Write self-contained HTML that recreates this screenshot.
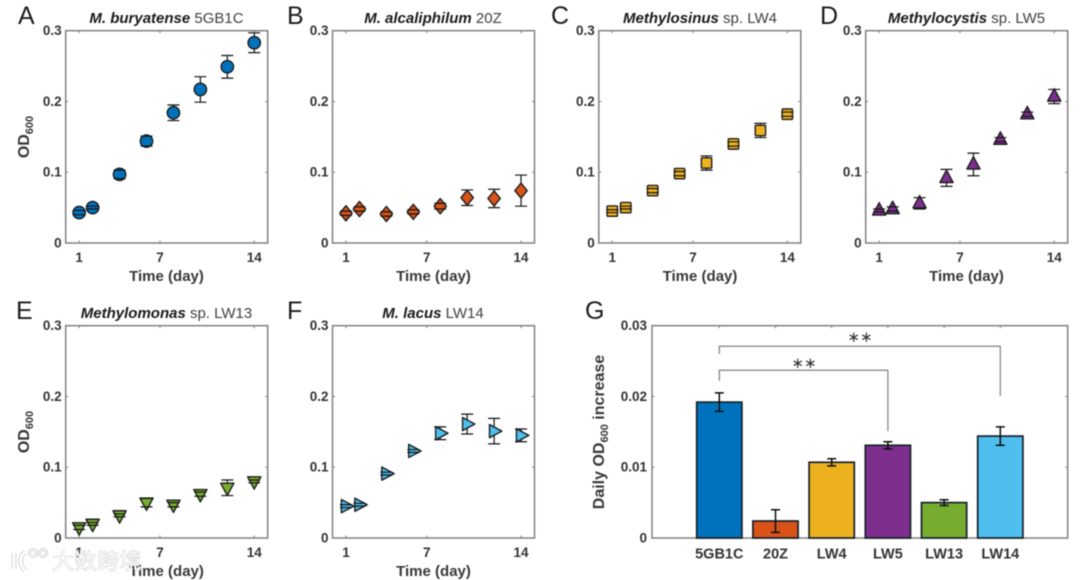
<!DOCTYPE html>
<html>
<head>
<meta charset="utf-8">
<title>Growth curves of methanotrophs</title>
<style>
html,body{margin:0;padding:0;background:#fff;}
body{width:1080px;height:580px;overflow:hidden;}
svg{display:block;filter:blur(0.6px);font-family:"Liberation Sans","Noto Sans CJK SC",sans-serif;}
.tick{font-size:13.5px;font-weight:bold;fill:#333;}
.lab{font-size:15px;font-weight:bold;fill:#383838;}
.oy{font-size:16px;}
.sub{font-size:11px;font-weight:bold;}
.ttl{font-size:15px;fill:#404040;}
.ttl .it{font-weight:bold;font-style:italic;fill:#1a1a1a;}
.let{font-size:25px;fill:#1c1c1c;}
</style>
</head>
<body>
<svg id="fig" xmlns="http://www.w3.org/2000/svg" width="1080" height="580" viewBox="0 0 1080 580">
  <rect width="1080" height="580" fill="#fff"/>

  <text class="let" x="18" y="24">A</text>
  <text class="let" x="287" y="24">B</text>
  <text class="let" x="551" y="24">C</text>
  <text class="let" x="820" y="24">D</text>
  <text class="let" x="16" y="319">E</text>
  <text class="let" x="287" y="319">F</text>
  <text class="let" x="585" y="319">G</text>

  <text class="ttl" x="166.5" y="23" text-anchor="middle"><tspan class="it">M. buryatense</tspan> 5GB1C</text>
  <text class="ttl" x="433" y="23" text-anchor="middle"><tspan class="it">M. alcaliphilum</tspan> 20Z</text>
  <text class="ttl" x="700" y="23" text-anchor="middle"><tspan class="it">Methylosinus</tspan> sp. LW4</text>
  <text class="ttl" x="966.5" y="23" text-anchor="middle"><tspan class="it">Methylocystis</tspan> sp. LW5</text>
  <text class="ttl" x="166.5" y="318" text-anchor="middle"><tspan class="it">Methylomonas</tspan> sp. LW13</text>
  <text class="ttl" x="433" y="318" text-anchor="middle"><tspan class="it">M. lacus</tspan> LW14</text>

  <text class="lab" x="166.5" y="281" text-anchor="middle">Time (day)</text>
  <text class="lab" x="433.5" y="281" text-anchor="middle">Time (day)</text>
  <text class="lab" x="700" y="281" text-anchor="middle">Time (day)</text>
  <text class="lab" x="966.5" y="281" text-anchor="middle">Time (day)</text>
  <text class="lab" x="166.5" y="576" text-anchor="middle">Time (day)</text>
  <text class="lab" x="433.5" y="576" text-anchor="middle">Time (day)</text>

  <text class="lab oy" transform="translate(29,137) rotate(-90)" text-anchor="middle">OD<tspan class="sub" dy="4">600</tspan></text>
  <text class="lab oy" transform="translate(29,432) rotate(-90)" text-anchor="middle">OD<tspan class="sub" dy="4">600</tspan></text>
  <text class="lab oy" transform="translate(604,432) rotate(-90)" text-anchor="middle">Daily OD<tspan class="sub" dy="4">600</tspan><tspan dy="-4"> increase</tspan></text>

  <g id="charts"></g>

  <text x="804" y="368" text-anchor="middle" font-family="'DejaVu Sans',sans-serif" font-size="15" fill="#333">∗∗</text>
  <text x="860" y="342" text-anchor="middle" font-family="'DejaVu Sans',sans-serif" font-size="15" fill="#333">∗∗</text>

  <g>
    <g fill="none">
      <path d="M14 553 v16 M25 552 q-9 8 0 19" stroke="#c4c4c4" stroke-width="4.4"/>
      <path d="M14 553 v16 M25 552 q-9 8 0 19" stroke="#fff" stroke-width="3"/>
      <circle cx="33" cy="553" r="3.6" stroke="#bbb" stroke-width="2.6"/>
      <circle cx="43" cy="553" r="3.6" stroke="#bbb" stroke-width="2.6"/>
      <circle cx="33" cy="553" r="3.6" stroke="#fff" stroke-width="1.4"/>
      <circle cx="43" cy="553" r="3.6" stroke="#fff" stroke-width="1.4"/>
    </g>
    <text x="52" y="569" font-size="22" font-family="'Noto Sans CJK SC',sans-serif" fill="#fff" stroke="#b4b4b4" stroke-width="0.7" paint-order="stroke" letter-spacing="0.5">大数跨境</text>
  </g>
</svg>

<script>
// ---- shared axis values ----
const days = [1, 2, 4, 6, 8, 10, 12, 14];
const xTickLabels = [1, 7, 14];
const yTickLabels = ['0', '0.1', '0.2', '0.3'];
const yTickValues = [0, 0.1, 0.2, 0.3];

// ---- OD600 series (mean) ----
const seriesA = [0.043, 0.050, 0.097, 0.144, 0.184, 0.217, 0.249, 0.283];
const seriesB = [0.042, 0.048, 0.041, 0.044, 0.052, 0.064, 0.063, 0.074];
const seriesC = [0.045, 0.050, 0.074, 0.098, 0.113, 0.140, 0.159, 0.182];
const seriesD = [0.046, 0.048, 0.056, 0.092, 0.111, 0.146, 0.182, 0.207];
const seriesE = [0.015, 0.020, 0.032, 0.050, 0.047, 0.062, 0.071, 0.080];
const seriesF = [0.045, 0.047, 0.091, 0.123, 0.148, 0.161, 0.151, 0.145];

// ---- OD600 series (error) ----
const errorA = [0.003, 0.002, 0.006, 0.007, 0.011, 0.018, 0.016, 0.014];
const errorB = [0.003, 0.003, 0.003, 0.003, 0.004, 0.011, 0.013, 0.022];
const errorC = [0.002, 0.002, 0.003, 0.003, 0.010, 0.003, 0.010, 0.003];
const errorD = [0.002, 0.003, 0.008, 0.012, 0.016, 0.003, 0.003, 0.010];
const errorE = [0.003, 0.002, 0.002, 0.006, 0.003, 0.003, 0.011, 0.002];
const errorF = [0.002, 0.002, 0.002, 0.002, 0.009, 0.014, 0.018, 0.009];

// ---- panel G ----
const barCategories = ['5GB1C', '20Z', 'LW4', 'LW5', 'LW13', 'LW14'];
const barValues = [0.0192, 0.0024, 0.0107, 0.0131, 0.0050, 0.0144];
const barErrors = [0.0013, 0.0016, 0.0005, 0.0005, 0.0004, 0.0013];
const barTickLabels = ['0', '0.01', '0.02', '0.03'];
const barTickValues = [0, 0.01, 0.02, 0.03];
const barColors = ['#0072bd', '#d95319', '#edb120', '#7e2f8e', '#77ac30', '#4dbeee'];

const NS = 'http://www.w3.org/2000/svg';
const root = document.getElementById('charts');
const AXIS = '#808080';
const INK = '#141414';

function make(parent, tag, attrs) {
  const el = document.createElementNS(NS, tag);
  for (const k in attrs) el.setAttribute(k, attrs[k]);
  parent.appendChild(el);
  return el;
}

function drawFrame(g, f, xTicksPx, yTicksPx) {
  const box = make(g, 'rect', {x: f.l, y: f.t, width: f.r - f.l, height: f.b - f.t, fill: 'none', stroke: AXIS, 'stroke-width': 1.5});
  
  
  xTicksPx.forEach(function (x) {
    const d = 'M' + x + ' ' + f.b + 'v-2.5M' + x + ' ' + f.t + 'v2.5';
    const t = make(g, 'path', {d: d, stroke: AXIS, 'stroke-width': 1, fill: 'none'});
    
    
  });
  yTicksPx.forEach(function (y) {
    const d = 'M' + f.l + ' ' + y + 'h2.5M' + f.r + ' ' + y + 'h-2.5';
    const t = make(g, 'path', {d: d, stroke: AXIS, 'stroke-width': 1, fill: 'none'});
    
    
  });
}

function drawMarker(g, kind, cx, cy, color) {
  const common = {fill: color, stroke: '#1d1d1d', 'stroke-width': 1.4, 'stroke-linejoin': 'round'};
  let el;
  if (kind === 'circle') {
    el = make(g, 'circle', Object.assign({cx: cx, cy: cy, r: 6.2}, common));
  } else if (kind === 'square') {
    el = make(g, 'rect', Object.assign({x: cx - 5.2, y: cy - 5.2, width: 10.4, height: 10.4, rx: 1}, common));
  } else {
    const shapes = {
      diamond: [[0, -7.6], [6.2, 0], [0, 7.6], [-6.2, 0]],
      up: [[0, -7.8], [6.6, 4.6], [-6.6, 4.6]],
      down: [[0, 7.8], [6.6, -4.6], [-6.6, -4.6]],
      right: [[7.8, 0], [-4.6, 6.6], [-4.6, -6.6]]
    };
    const pts = shapes[kind].map(function (p) { return (cx + p[0]) + ',' + (cy + p[1]); }).join(' ');
    el = make(g, 'polygon', Object.assign({points: pts}, common));
  }
  
  
}

function drawGrowthPanel(name, left, top, series, errors, color, kind) {
  const frame = {l: left, r: left + 202, t: top, b: top + 212.3};
  const xScale = function (v) { return frame.l + (v / 15) * (frame.r - frame.l); };
  const yScale = function (v) { return frame.b - (v / 0.3) * (frame.b - frame.t); };

  const g = make(root, 'g', {});
  
  

  drawFrame(g, frame, xTickLabels.map(xScale), yTickValues.slice(1, 3).map(yScale));

  xTickLabels.forEach(function (v) {
    const t = make(g, 'text', {x: xScale(v), y: frame.b + 19, 'text-anchor': 'middle', class: 'tick'});
    t.textContent = String(v);
    
    
  });
  yTickValues.forEach(function (v, i) {
    const t = make(g, 'text', {x: frame.l - 4, y: yScale(v) + 4.5, 'text-anchor': 'end', class: 'tick'});
    t.textContent = yTickLabels[i];
    
    
  });

  const capHalf = 6;
  days.forEach(function (d, i) {
    const x = xScale(d);
    const y = yScale(series[i]);
    const yLo = yScale(series[i] - errors[i]);
    const yHi = yScale(series[i] + errors[i]);
    const stem = make(g, 'line', {x1: x, x2: x, y1: yLo, y2: yHi, stroke: INK, 'stroke-width': 1.2});
    
    
    drawMarker(g, kind, x, y, color);
    const caps = make(g, 'path', {
      d: 'M' + (x - capHalf) + ' ' + yLo + 'h' + (2 * capHalf) + 'M' + (x - capHalf) + ' ' + yHi + 'h' + (2 * capHalf),
      stroke: INK, 'stroke-width': 1.2, fill: 'none'
    });
    
    
  });
}

drawGrowthPanel('a', 65.7, 30.7, seriesA, errorA, '#0072bd', 'circle');
drawGrowthPanel('b', 332.5, 30.7, seriesB, errorB, '#d95319', 'diamond');
drawGrowthPanel('c', 598.8, 30.7, seriesC, errorC, '#edb120', 'square');
drawGrowthPanel('d', 865.7, 30.7, seriesD, errorD, '#7e2f8e', 'up');
drawGrowthPanel('e', 65.7, 325.7, seriesE, errorE, '#77ac30', 'down');
drawGrowthPanel('f', 332.5, 325.7, seriesF, errorF, '#4dbeee', 'right');

(function drawBarPanel() {
  const frame = {l: 652, r: 1067.7, t: 325.7, b: 538};
  const xScale = function (i) { return 719.3 + i * 56.2; };
  const yScale = function (v) { return frame.b - (v / 0.03) * (frame.b - frame.t); };

  const g = make(root, 'g', {});
  
  

  drawFrame(g, frame, barCategories.map(function (c, i) { return xScale(i); }), barTickValues.slice(1, 3).map(yScale));

  barTickValues.forEach(function (v, i) {
    const t = make(g, 'text', {x: frame.l - 5, y: yScale(v) + 4.5, 'text-anchor': 'end', class: 'tick'});
    t.textContent = barTickLabels[i];
    
    
  });

  barCategories.forEach(function (c, i) {
    const x = xScale(i);
    const top = yScale(barValues[i]);
    const bar = make(g, 'rect', {x: x - 22.6, y: top, width: 45.2, height: frame.b - top, fill: barColors[i], stroke: '#16222a', 'stroke-width': 1.7});
    
    
    const yLo = yScale(barValues[i] - barErrors[i]);
    const yHi = yScale(barValues[i] + barErrors[i]);
    const err = make(g, 'path', {
      d: 'M' + x + ' ' + yLo + 'V' + yHi + 'M' + (x - 4.5) + ' ' + yLo + 'h9M' + (x - 4.5) + ' ' + yHi + 'h9',
      stroke: '#0c0c0c', 'stroke-width': 1.5, fill: 'none'
    });
    
    
    const lab = make(g, 'text', {x: x, y: frame.b + 20.5, 'text-anchor': 'middle', class: 'tick', style: 'font-size:14.5px'});
    lab.textContent = c;
    
    
  });

  // significance brackets, expressed in data units on the same axes
  const b1 = make(g, 'path', {
    d: 'M' + xScale(0) + ' ' + yScale(0.0222) + 'V' + yScale(0.0237) + 'H' + xScale(3) + 'V' + yScale(0.0151),
    stroke: '#808080', 'stroke-width': 1.2, fill: 'none'
  });
  
  
  const b2 = make(g, 'path', {
    d: 'M' + xScale(0) + ' ' + yScale(0.0260) + 'V' + yScale(0.0271) + 'H' + xScale(5) + 'V' + yScale(0.0201),
    stroke: '#808080', 'stroke-width': 1.2, fill: 'none'
  });
  
  
})();
</script>
</body>
</html>
